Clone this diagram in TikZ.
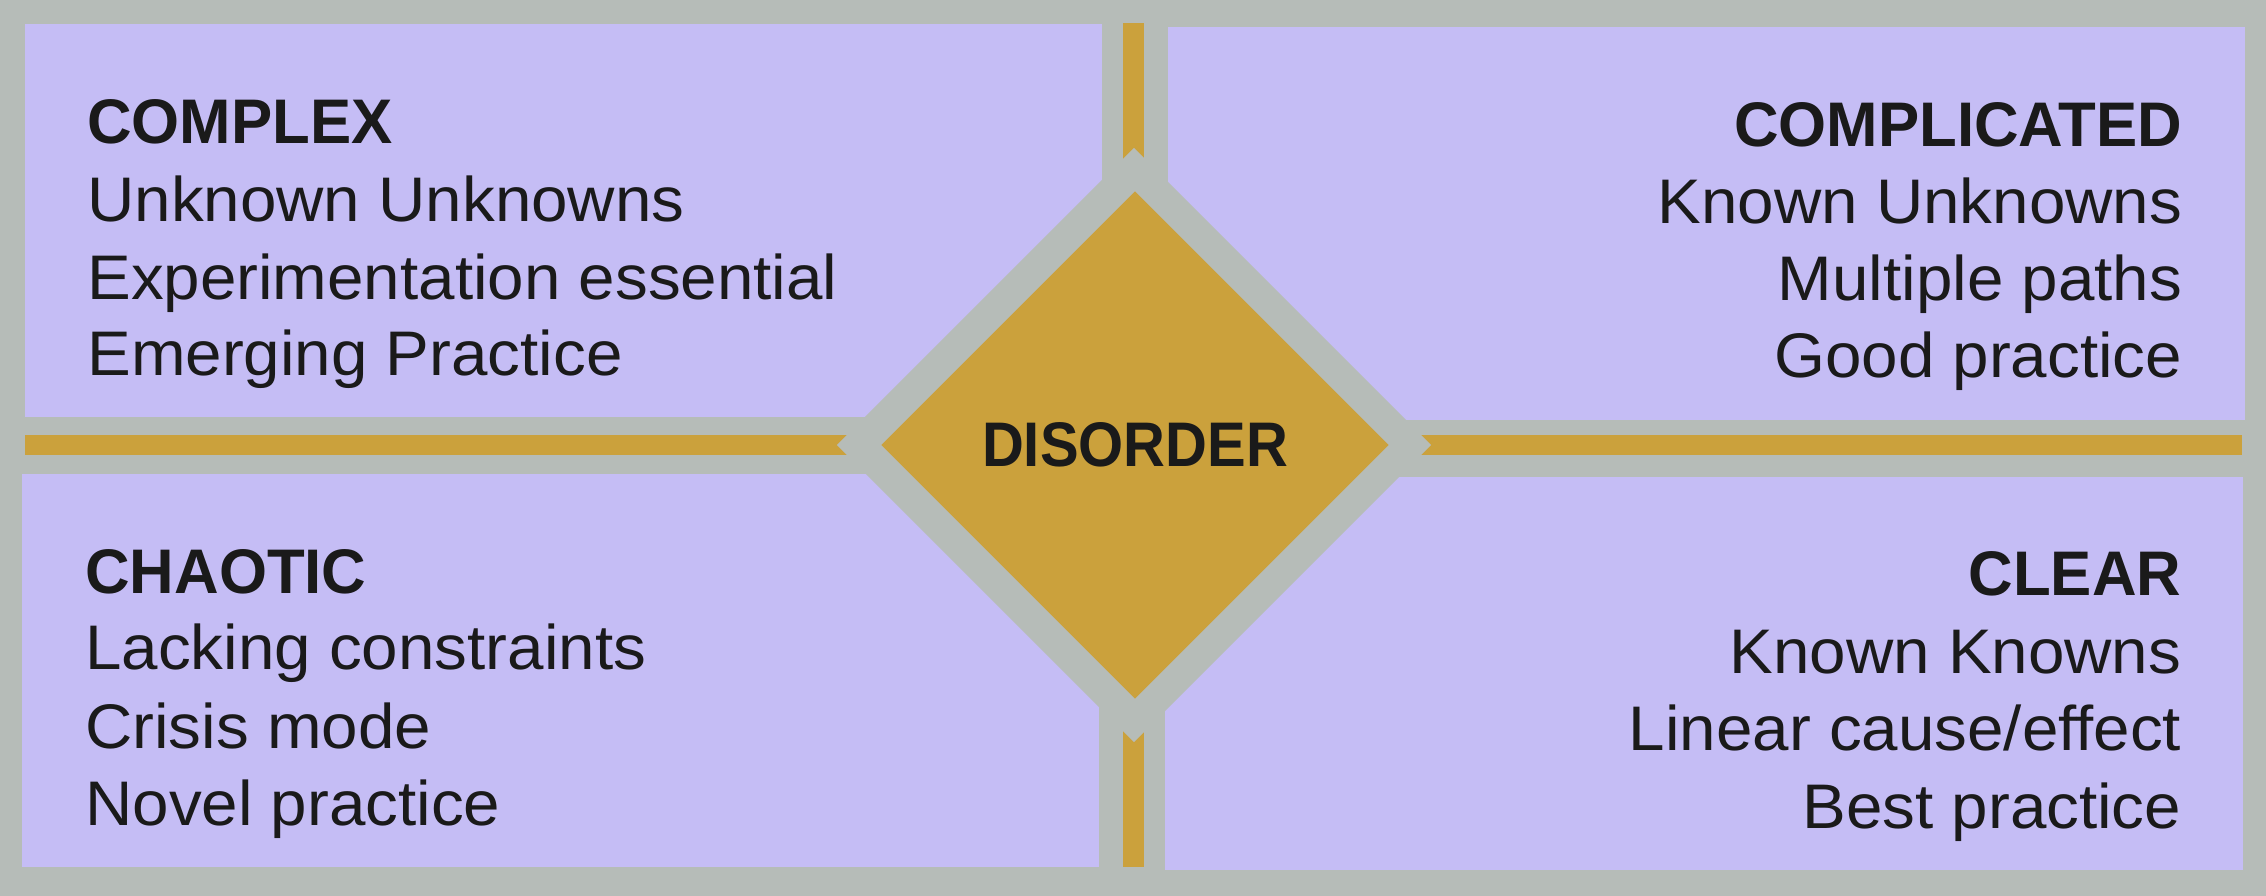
\documentclass[tikz,border=0pt]{standalone}
\usepackage{fontspec}
\setmainfont{Liberation Sans}[FakeStretch=1.04]
\newfontfamily\headfont{Liberation Sans}[FakeStretch=0.98]
\newfontfamily\centrefont{Liberation Sans}[FakeStretch=0.92]
\usetikzlibrary{shapes.geometric}
\definecolor{bggray}{RGB}{182,188,184}
\definecolor{quad}{RGB}{197,189,245}
\definecolor{gold}{RGB}{203,161,60}
\definecolor{ink}{RGB}{26,26,26}
\begin{document}
\begin{tikzpicture}[x=0.25pt,y=-0.25pt,
  head/.style={font=\headfont\bfseries\fontsize{15.75pt}{18pt}\selectfont, text=ink, inner sep=0pt},
  centrehead/.style={font=\centrefont\bfseries\fontsize{15.75pt}{18pt}\selectfont, text=ink},
  txt/.style={font=\fontsize{15.75pt}{18pt}\selectfont, text=ink, inner sep=0pt},
  quadbox/.style={fill=quad},
  bar/.style={fill=gold}]
\fill[bggray] (0,0) rectangle (2266,896);
\useasboundingbox (0,0) rectangle (2266,896);
% quadrants
\fill[quadbox] (25,24) rectangle (1102,417);
\fill[quadbox] (1168,27) rectangle (2245,420);
\fill[quadbox] (22,474) rectangle (1099,867);
\fill[quadbox] (1165,477) rectangle (2242.5,870);
% gold bars
\fill[bar] (25,435) rectangle (2242,455.5);
\fill[bar] (1123,23) rectangle (1144,867);
% centre diamond
\node[diamond, aspect=1, fill=bggray, inner sep=0pt, minimum width=148.75pt, minimum height=148.75pt] (ring) at (1134,445) {};
\node[diamond, aspect=1, fill=gold, inner sep=0pt, minimum width=127pt, minimum height=127pt, centrehead] (disorder) at (1135,445) {DISORDER};
% complex
\node[head, anchor=base west] (cx0) at (86.5,144) {COMPLEX};
\node[txt, anchor=base west] (cx1) at (86.5,221.7) {Unknown Unknowns};
\node[txt, anchor=base west] (cx2) at (86.5,300) {Experimentation essential};
\node[txt, anchor=base west] (cx3) at (86.5,376) {Emerging Practice};
% complicated
\node[head, anchor=base east] (cd0) at (2183,146.7) {COMPLICATED};
\node[txt, anchor=base east] (cd1) at (2183,223.3) {Known Unknowns};
\node[txt, anchor=base east] (cd2) at (2183,300.7) {Multiple paths};
\node[txt, anchor=base east] (cd3) at (2183,377.3) {Good practice};
% chaotic
\node[head, anchor=base west] (ch0) at (84.5,593.3) {CHAOTIC};
\node[txt, anchor=base west] (ch1) at (84.5,669.3) {Lacking constraints};
\node[txt, anchor=base west] (ch2) at (84.5,748.3) {Crisis mode};
\node[txt, anchor=base west] (ch3) at (84.5,825) {Novel practice};
% clear
\node[head, anchor=base east] (cl0) at (2182,596) {CLEAR};
\node[txt, anchor=base east] (cl1) at (2182,673.3) {Known Knowns};
\node[txt, anchor=base east] (cl2) at (2182,750) {Linear cause/effect};
\node[txt, anchor=base east] (cl3) at (2182,828.3) {Best practice};
\end{tikzpicture}
\end{document}
